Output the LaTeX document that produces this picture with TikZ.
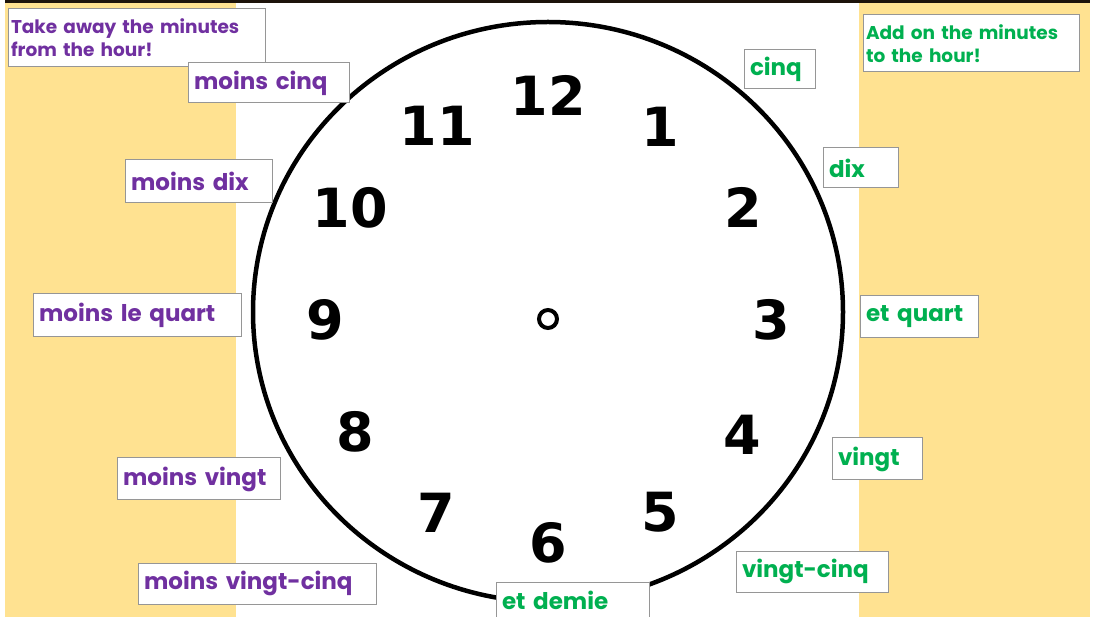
\documentclass[tikz,border=0pt]{standalone}
\usepackage{fontspec}
\usetikzlibrary{shapes.geometric}
\newfontfamily\lblfont{Poppins}
\newfontfamily\numfont{DejaVu Sans}
\definecolor{band}{RGB}{255,226,145}
\definecolor{purp}{RGB}{112,48,160}
\definecolor{grn}{RGB}{0,176,80}
\definecolor{boxline}{RGB}{150,150,150}
\tikzset{
  lbl/.style={draw=boxline, fill=white, line width=1pt, inner xsep=6pt, inner ysep=1pt,
    align=left, font=\lblfont\bfseries\fontsize{23}{26}\selectfont},
  hdr/.style={lbl, inner xsep=3pt, font=\lblfont\bfseries\fontsize{18.5}{23}\selectfont},
  num/.style={inner sep=0pt, font=\numfont\bfseries\fontsize{54}{54}\selectfont}
}
\newcommand\lbox[8]{%
  \pgfmathsetmacro\bw{#5-#3-12}\pgfmathsetmacro\bh{#6-#4}%
  \pgfmathsetmacro\bx{(#3+#5)/2}\pgfmathsetmacro\by{(#4+#6)/2}%
  \node[#2,text=#7,text width=\bw pt,minimum height=\bh pt] (#1) at (\bx,\by) {#8};}
\begin{document}
\begin{tikzpicture}[x=1pt,y=-1pt]
\useasboundingbox (0,0) rectangle (1093,617);
\fill[white] (0,0) rectangle (1093,617);
% bands
\fill[band] (5,0) rectangle (236,617);
\fill[band] (859,0) rectangle (1090,617);
\draw[line width=3pt, color=black!85!brown] (5,2) -- (1090,2);
% clock
\node[draw, line width=4.5pt, ellipse, minimum width=590pt, minimum height=580pt, inner sep=0pt] (face) at (548,312) {};
\node[draw, circle, line width=4pt, minimum size=18pt, inner sep=0pt] (hub) at (548,319) {};
\node[num] (n12) at (548,95) {12};
\node[num] (n1) at (660,127) {1};
\node[num] (n2) at (743,207) {2};
\node[num] (n3) at (771,320) {3};
\node[num] (n4) at (742,435) {4};
\node[num] (n5) at (660,512) {5};
\node[num] (n6) at (548,543) {6};
\node[num] (n7) at (436,513) {7};
\node[num] (n8) at (355,432) {8};
\node[num] (n9) at (325,320) {9};
\node[num] (n10) at (350,208) {10};
\node[num] (n11) at (437,126) {11};
% labels
\lbox{take}{hdr}{5}{9}{268}{67}{purp}{Take away the minutes\\from the hour!}
\lbox{add}{hdr}{860}{15}{1082}{72}{grn}{Add on the minutes\\to the hour!}
\lbox{mcinq}{lbl}{188}{63}{349}{103}{purp}{moins cinq}
\lbox{mdix}{lbl}{125}{160}{272}{203}{purp}{moins dix}
\lbox{mquart}{lbl}{33}{294}{241}{337}{purp}{moins le quart}
\lbox{mvingt}{lbl}{117}{458}{280}{500}{purp}{moins vingt}
\lbox{mvcinq}{lbl}{138}{563}{376}{604}{purp}{moins vingt-cinq}
\lbox{demie}{lbl}{496}{582}{649}{618}{grn}{et demie}
\lbox{vcinq}{lbl}{736}{551}{888}{592}{grn}{vingt-cinq}
\lbox{vingt}{lbl}{832}{438}{922}{480}{grn}{vingt}
\lbox{equart}{lbl}{860}{296}{978}{338}{grn}{et quart}
\lbox{dix}{lbl}{823}{148}{898}{188}{grn}{dix}
\lbox{cinq}{lbl}{744}{50}{815}{89}{grn}{cinq}
\end{tikzpicture}
\end{document}
